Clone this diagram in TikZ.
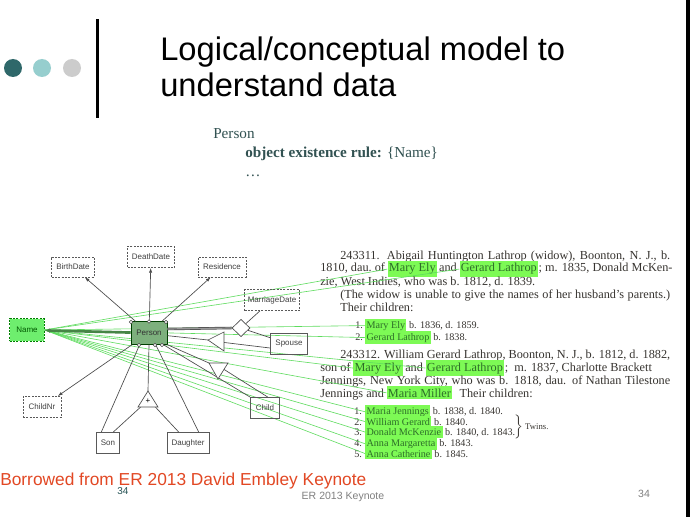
\documentclass[tikz,border=0pt]{standalone}
\usepackage{fontspec}
\setmainfont{Liberation Serif}
\setsansfont{Liberation Sans}
\usepackage{xcolor}
\usetikzlibrary{arrows.meta,positioning,calc,shapes.geometric}

\definecolor{dotdark}{RGB}{47,104,106}
\definecolor{dotlight}{RGB}{150,206,206}
\definecolor{dotgrey}{RGB}{204,204,204}
\definecolor{hlgreen}{RGB}{125,250,85}
\definecolor{hltext}{RGB}{45,110,40}
\definecolor{glink}{RGB}{95,220,95}
\definecolor{namefill}{RGB}{110,238,110}
\definecolor{personfill}{RGB}{125,176,125}
\definecolor{oldtext}{RGB}{55,52,48}
\definecolor{ruletext}{RGB}{50,82,82}
\definecolor{footred}{RGB}{226,72,36}

\begin{document}
\begin{tikzpicture}[x=0.75pt,y=-0.75pt,>=Stealth,
  ent/.style={draw=black!65,line width=.5pt,inner sep=0pt,font=\sffamily\fontsize{6}{7}\selectfont,text=black!75},
  lex/.style={ent,dash pattern=on 1.5pt off 1pt},
  fd/.style={-{Latex[length=3.5pt,width=2.5pt]},black!70,line width=.5pt},
  rl/.style={black!70,line width=.5pt},
  opt/.style={circle,draw=black!70,fill=white,inner sep=0pt,minimum size=2.6pt,line width=.4pt},
  gl/.style={glink,line width=.45pt},
  oldtxt/.style={anchor=base west,inner sep=0pt,text=oldtext,font=\fontsize{9.2}{11}\selectfont},
  kid/.style={oldtxt,font=\fontsize{7.6}{9}\selectfont},
  hl/.style={anchor=base west,fill=hlgreen,inner xsep=1pt,inner ysep=1.6pt,text=hltext,font=\fontsize{9.2}{11}\selectfont},
  hlkid/.style={hl,font=\fontsize{7.6}{9}\selectfont}]
\useasboundingbox (0,0) rectangle (690,517);
\fill[white] (0,0) rectangle (690,517);
\fill[black] (686,0) rectangle (690,517);

% title
\fill[dotdark] (13,68) circle (9);
\fill[dotlight] (42,68) circle (9);
\fill[dotgrey] (72,68) circle (9);
\fill[black] (95.5,19) rectangle (98.5,118);
\node[anchor=base west,inner sep=0pt,font=\sffamily\fontsize{24.5}{29}\selectfont] (title1) at (160,61) {Logical/conceptual model to};
\node[anchor=base west,inner sep=0pt,font=\sffamily\fontsize{24.5}{29}\selectfont] (title2) at (160,97) {understand data};

% rule
\node[anchor=base west,inner sep=0pt,text=ruletext,font=\fontsize{11.4}{13}\selectfont] (rperson) at (213,139) {Person};
\node[anchor=base west,inner sep=0pt,text=ruletext,font=\fontsize{11.4}{13}\selectfont] (rexist) at (245,157) {\textbf{object existence rule:} \{Name\}};
\node[anchor=base west,inner sep=0pt,text=ruletext,font=\fontsize{11.4}{13}\selectfont] (rdots) at (245,176) {\dots};

% lexical object set Name
\node[lex,fill=namefill,draw=green!50!black,text=green!35!black,minimum width=26pt,minimum height=17pt] (name) at (27,330) {Name};

% genealogy, first family
\node[oldtxt] (a1) at (340,259) {\makebox[247.5pt][s]{243311. Abigail Huntington Lathrop (widow), Boonton, N. J., b.}};
\node[oldtxt] (a2) at (320,272) {1810, dau.\ of};
\node[hl] (me1) at ([xshift=1.6pt]a2.base east) {Mary Ely};
\node[oldtxt] (a2b) at ([xshift=1.2pt]me1.base east) {and};
\node[hl] (gl1) at ([xshift=1.6pt]a2b.base east) {Gerard Lathrop};
\node[oldtxt] (a2c) at (gl1.base east) {; m. 1835, Donald McKen-};
\node[oldtxt] (a3) at (320,285) {zie, West Indies, who was b. 1812, d. 1839.};
\node[oldtxt] (a4) at (340,298) {\makebox[247.5pt][s]{(The widow is unable to give the names of her husband's parents.)}};
\node[oldtxt] (a5) at (340,311) {Their children:};
\node[kid] (a6) at (355,328) {1.};
\node[hlkid] (me2) at (365,328) {Mary Ely};
\node[kid] (a6b) at ([xshift=1.6pt]me2.base east) {b. 1836, d. 1859.};
\node[kid] (a7) at (355,340) {2.};
\node[hlkid] (gl2) at (365,340) {Gerard Lathrop};
\node[kid] (a7b) at ([xshift=1.6pt]gl2.base east) {b. 1838.};

% genealogy, second family
\node[oldtxt] (b1) at (340,358) {\makebox[247.5pt][s]{243312. William Gerard Lathrop, Boonton, N. J., b. 1812, d. 1882,}};
\node[oldtxt] (b2) at (320,371) {son of};
\node[hl] (me3) at ([xshift=1.6pt]b2.base east) {Mary Ely};
\node[oldtxt] (b2b) at ([xshift=1.6pt]me3.base east) {and};
\node[hl] (gl3) at ([xshift=1.6pt]b2b.base east) {Gerard Lathrop};
\node[oldtxt] (b2c) at (gl3.base east) {;\ \ m. 1837, Charlotte Brackett};
\node[oldtxt] (b3) at (320,384) {\makebox[262.5pt][s]{Jennings, New York City, who was b. 1818, dau. of Nathan Tilestone}};
\node[oldtxt] (b4) at (320,397) {Jennings and};
\node[hl] (mm) at ([xshift=1.6pt]b4.base east) {Maria Miller};
\node[oldtxt] (b4b) at ([xshift=5pt]mm.base east) {Their children:};
\node[kid] (k1) at (354,414) {1.};
\node[hlkid] (mj) at (365,414) {Maria Jennings};
\node[kid] (k1b) at ([xshift=1.6pt]mj.base east) {b. 1838, d. 1840.};
\node[kid] (k2) at (354,425) {2.};
\node[hlkid] (wg) at (365,425) {William Gerard};
\node[kid] (k2b) at ([xshift=1.6pt]wg.base east) {b. 1840.};
\node[kid] (k3) at (354,435.5) {3.};
\node[hlkid] (dm) at (365,435.5) {Donald McKenzie};
\node[kid] (k3b) at ([xshift=1.6pt]dm.base east) {b. 1840, d. 1843.};
\node[kid] (k4) at (354,446) {4.};
\node[hlkid] (am) at (365,446) {Anna Margaretta};
\node[kid] (k4b) at ([xshift=1.6pt]am.base east) {b. 1843.};
\node[kid] (k5) at (354,457) {5.};
\node[hlkid] (ac) at (365,457) {Anna Catherine};
\node[kid] (k5b) at ([xshift=1.6pt]ac.base east) {b. 1845.};
\node[anchor=west,inner sep=0pt,text=oldtext,font=\fontsize{6.5}{8}\selectfont] (twins) at (513,427) {$\left.\rule{0pt}{9pt}\right\}$\,Twins.};

% green links from Name to the highlighted names
\foreach \t in {me1,gl1,me2,gl2,me3,gl3,mm,mj,wg,dm,am,ac}
  \draw[gl] (name.east) -- (\t.west);

% ER diagram
\node[lex,minimum width=32pt,minimum height=15pt] (birth) at (73,267) {BirthDate};
\node[lex,minimum width=35pt,minimum height=16pt] (death) at (151,257) {DeathDate};
\node[lex,minimum width=36pt,minimum height=15pt] (resid) at (222,267) {Residence};
\node[lex,minimum width=41pt,minimum height=16pt] (marr) at (272,300) {MarriageDate};
\node[lex,minimum width=28.5pt,minimum height=16pt] (childnr) at (42,407) {ChildNr};
\node[ent,fill=personfill,draw=green!25!black,text=black!80,minimum width=27pt,minimum height=17pt] (person) at (149,333) {Person};
\node[ent,minimum width=28pt,minimum height=16pt] (spouse) at (289,344) {Spouse};
\node[ent,minimum width=22pt,minimum height=16pt] (child) at (265,408) {Child};
\node[ent,minimum width=17pt,minimum height=16pt] (son) at (108,443) {Son};
\node[ent,minimum width=31.5pt,minimum height=16pt] (daughter) at (188,443) {Daughter};
\node[diamond,draw=black!70,fill=white,line width=.5pt,inner sep=0pt,minimum width=13.5pt,minimum height=13pt] (rel) at (241,328) {};

% generalization triangles
\coordinate (sa) at (208,340);
\coordinate (sb) at (224,332);
\coordinate (sc) at (224,351);
\coordinate (ta) at (209,363);
\coordinate (tb) at (228,363);
\coordinate (tc) at (218,379);
\coordinate (pa) at (148,391);
\coordinate (pb) at (138,407);
\coordinate (pc) at (158,407);

\draw[fd] (person) -- (birth);
\draw[fd] (person) -- (death);
\draw[fd] (person) -- (resid);
\draw[fd] (person) -- (childnr);
\draw[-{Latex[length=4pt,width=3.5pt]},line width=2pt,black!45!green!45!gray] (person) -- (name);
\draw[rl,double=black!40,double distance=.9pt] ([yshift=3pt]person.east) -- (rel.west);
\draw[rl] (rel) -- (marr);
\draw[rl] (rel) -- (spouse);
\draw[rl] ([yshift=-2pt]person.east) -- (sa);
\draw[rl] ($(sb)!.55!(sc)$) -- ([yshift=-3pt]spouse.west);
\draw[rl] (person.south east) -- (ta);
\draw[rl] ($(tb)!.4!(tc)$) -- ([xshift=2pt]child.north);
\draw[rl] ([xshift=-3pt]person.south east) -- (child.north west);
\draw[rl] (person.south) -- (pa);
\draw[rl] ([xshift=2pt]pb) -- ([xshift=4pt]son.north);
\draw[rl] ([xshift=-2pt]pc) -- ([xshift=-7pt]daughter.north);
\draw[rl] ([xshift=-7pt]person.south) -- ([xshift=-5pt]son.north);
\draw[rl] ([xshift=5pt]person.south) -- ([xshift=8pt]daughter.north);
\draw[rl,fill=white] (sa) -- (sb) -- (sc) -- cycle;
\draw[rl,fill=white] (ta) -- (tb) -- (tc) -- cycle;
\draw[rl,fill=white] (pa) -- (pb) -- (pc) -- cycle;
\node[font=\sffamily\fontsize{6}{6}\selectfont,inner sep=0pt] (plus) at (148,401) {+};
\node[opt] (o1) at (131,322) {};
\node[opt] (o2) at (149,321.5) {};
\node[opt] (o3) at (166,322) {};
\node[opt] (o4) at (139,345) {};
\node[opt] (o5) at (155,345) {};
\node[opt] (o6) at (162,345) {};

% footer
\node[anchor=base west,inner sep=0pt,text=footred,font=\sffamily\fontsize{13}{15}\selectfont] (borrow) at (0,485) {Borrowed from ER 2013 David Embley Keynote};
\node[inner sep=0pt,text=dotdark!80!black,font=\sffamily\fontsize{7.5}{9}\selectfont] (pgl) at (123,491) {34};
\node[inner sep=0pt,text=black!50,font=\sffamily\fontsize{7.9}{9}\selectfont] (foot) at (343,497) {ER 2013 Keynote};
\node[inner sep=0pt,text=black!50,font=\sffamily\fontsize{7.9}{9}\selectfont] (pgr) at (644,494) {34};
\end{tikzpicture}
\end{document}
